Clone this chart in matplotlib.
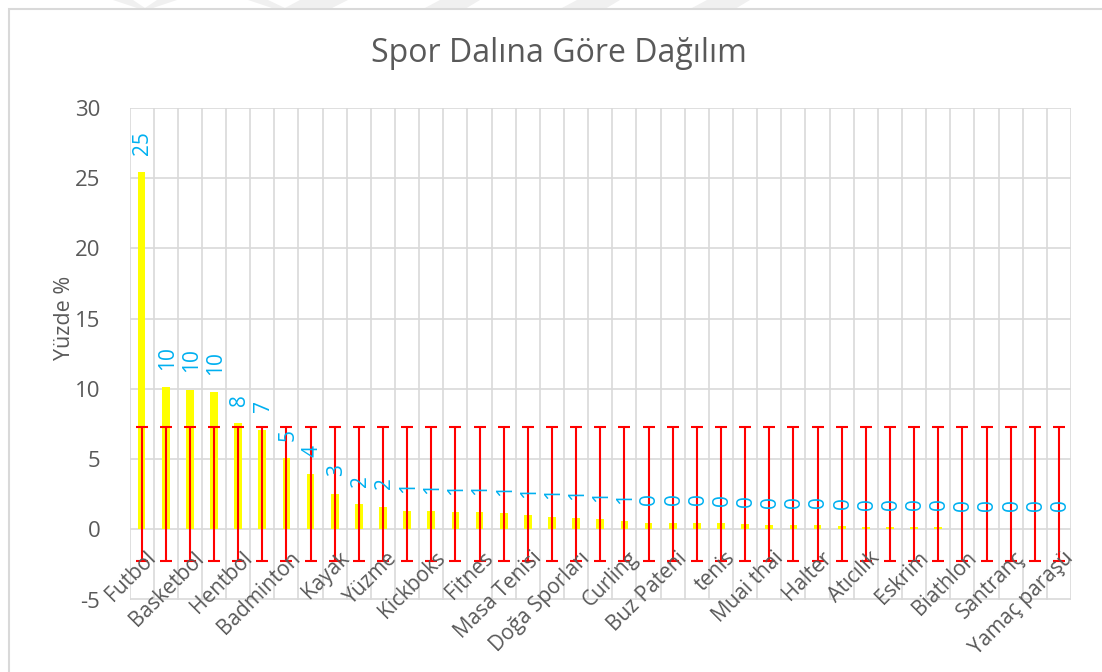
#!/usr/bin/env python3
"""
Spor dalina gore dagilim: yellow bars, 1-SD error bars around series mean,
rounded value labels, every other category label shown (Excel style).
"""

import numpy as np
import matplotlib
matplotlib.use("Agg")
import matplotlib.pyplot as plt
from matplotlib.patches import Rectangle, Polygon

plt.rcParams["font.family"] = ["Open Sans", "DejaVu Sans"]

# Category names; Excel only printed every other one, hidden ones are unknown
CATEGORIES = [
    "Futbol", "", "Basketbol", "", "Hentbol", "", "Badminton", "", "Kayak", "",
    "Yüzme", "", "Kickboks", "", "Fitnes", "", "Masa Tenisi", "", "Doğa Sporları", "",
    "Curling", "", "Buz Pateni", "", "tenis", "", "Muai thai", "", "Halter", "",
    "Atıcılık", "", "Eskrim", "", "Biathlon", "", "Santranç", "", "Yamaç paraşü",
]
# Percent per sport
VALUES = [
    25.43, 10.10, 9.93, 9.77, 7.57, 7.10, 5.08, 3.92, 2.53, 1.80,
    1.60, 1.33, 1.30, 1.23, 1.23, 1.14, 1.00, 0.90, 0.83, 0.73,
    0.57, 0.48, 0.48, 0.48, 0.45, 0.35, 0.30, 0.30, 0.30, 0.20,
    0.13, 0.13, 0.13, 0.13, 0.05, 0.05, 0.05, 0.05, 0.05,
]
Y_TICKS = [-5, 0, 5, 10, 15, 20, 25, 30]

TITLE = "Spor Dalına Göre Dağılım"
Y_LABEL = "Yüzde %"

BAR_CLR = "#ffff00"
ERR_CLR = "#ff0000"
LABEL_CLR = "#00b0f0"
TEXT_CLR = "#595959"
GRID_CLR = "#d9d9d9"

W, H = 1102, 672


def px(x, y):
    """Pixel position (top-left origin) -> figure fraction."""
    return x / W, 1 - y / H


def main():
    vals = np.array(VALUES)
    x = np.arange(len(vals))
    center = vals.mean()
    sd = vals.std(ddof=1)  # Excel "standard deviation" error bars

    fig = plt.figure(figsize=(W / 100, H / 100), dpi=100)
    fig.patch.set_facecolor("white")

    # faint page watermark at the very top
    for pts in [
        [(113, 0), (133, 0), (145, 8), (157, 0), (177, 0), (150, 9), (140, 9)],
        [(248, 0), (268, 0), (285, 8), (300, 0), (348, 0), (330, 9), (275, 9)],
        [(440, 0), (480, 0), (465, 9), (423, 9)],
        [(577, 0), (620, 0), (605, 9), (560, 9)],
        [(707, 0), (750, 0), (735, 9), (690, 9)],
    ]:
        fig.patches.append(Polygon([px(a, b) for a, b in pts], closed=True,
                                   transform=fig.transFigure, facecolor="#f0f0f0",
                                   edgecolor="none", zorder=0))

    # chart-area outline (runs off right/bottom edge like the screenshot)
    x0, y0 = px(9, 9)
    x1, y1 = px(1110, 680)
    fig.patches.append(Rectangle((x0, y1), x1 - x0, y0 - y1, transform=fig.transFigure,
                                 facecolor="none", edgecolor=GRID_CLR, lw=1.5, zorder=1))

    left, top = px(129.5, 108)
    right, bottom = px(1071, 599.5)
    ax = fig.add_axes([left, bottom, right - left, top - bottom])

    ax.bar(x, vals, width=0.32, color=BAR_CLR, zorder=2)
    ax.errorbar(x, np.full(len(vals), center), yerr=sd, fmt="none", ecolor=ERR_CLR,
                elinewidth=1.5, capsize=4.5, capthick=1.5, zorder=3)

    for xi, v in zip(x, vals):
        ax.annotate(f"{round(v):d}", (xi, v), xytext=(1, 12.5), textcoords="offset points",
                    rotation=90, ha="center", va="bottom", color=LABEL_CLR,
                    fontsize=15, zorder=4)

    ax.set_xlim(-0.5, len(vals) - 0.5)
    ax.set_ylim(Y_TICKS[0], Y_TICKS[-1])
    ax.set_yticks(Y_TICKS)
    ax.set_yticklabels([str(t) for t in Y_TICKS])
    ax.tick_params(axis="y", length=0, pad=21, labelsize=16, labelcolor=TEXT_CLR)
    ax.set_xticks([])

    # horizontal value gridlines and vertical category separators
    for t in Y_TICKS:
        ax.axhline(t, color=GRID_CLR, lw=1.2, zorder=1)
    for b in np.arange(-0.5, len(vals), 1.0):
        ax.axvline(b, color=GRID_CLR, lw=1.2, zorder=1)
    for s in ax.spines.values():
        s.set_visible(False)

    for xi, name in zip(x, CATEGORIES):
        if name:
            ax.text(xi + 0.15, -1.3, name, rotation=45, rotation_mode="anchor",
                    ha="right", va="top", fontsize=15, color=TEXT_CLR, zorder=5)

    tx, ty = px(559, 53)
    fig.text(tx, ty, TITLE, ha="center", va="center", fontsize=23, color=TEXT_CLR)
    lx, ly = px(64, 318)
    fig.text(lx, ly, Y_LABEL, rotation=90, ha="center", va="center",
             fontsize=15.5, color=TEXT_CLR)

    fig.savefig("out.png", dpi=100)
    plt.close(fig)


if __name__ == "__main__":
    main()
